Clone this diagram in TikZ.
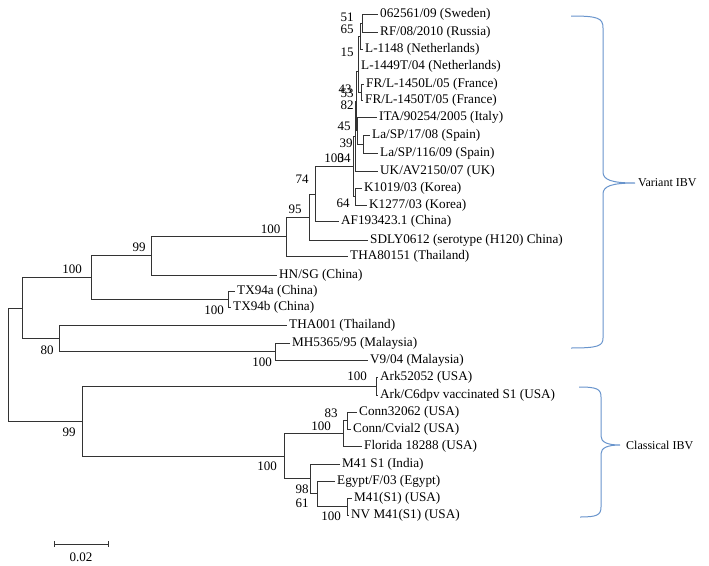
\documentclass[tikz,border=0pt]{standalone}
\usepackage{fontspec}
\setmainfont{Liberation Serif}
\definecolor{bracecol}{RGB}{104,148,204}

\begin{document}
\begin{tikzpicture}[x=1pt,y=-1pt,
	branch/.style={line width=0.9pt, draw=black!80},
	leaf/.style={anchor=west, inner sep=2pt, font=\fontsize{13.2}{14}\selectfont},
	boot/.style={inner sep=0pt, font=\fontsize{13}{14}\selectfont},
	clade/.style={line width=1pt, draw=bracecol},
	group/.style={anchor=west, inner sep=0pt, font=\fontsize{12}{14}\selectfont}]
			\useasboundingbox (0,0) rectangle (709,565);
			% leaf tips
			\coordinate (t1) at (378,14);
			\coordinate (t2) at (378,32);
			\coordinate (t3) at (363,49);
			\coordinate (t4) at (359,66.5);
			\coordinate (t5) at (364,84);
			\coordinate (t6) at (363,100.5);
			\coordinate (t7) at (377,117.5);
			\coordinate (t8) at (370,135);
			\coordinate (t9) at (378,153);
			\coordinate (t10) at (378,171);
			\coordinate (t11) at (362,188.5);
			\coordinate (t12) at (367,205);
			\coordinate (t13) at (339,221.5);
			\coordinate (t14) at (368,240);
			\coordinate (t15) at (348,256.5);
			\coordinate (t16) at (277,275);
			\coordinate (t17) at (235,291);
			\coordinate (t18) at (231,307.5);
			\coordinate (t19) at (287,325);
			\coordinate (t20) at (290,343);
			\coordinate (t21) at (368,360.5);
			\coordinate (t22) at (378,377.5);
			\coordinate (t23) at (378,395);
			\coordinate (t24) at (357,412.5);
			\coordinate (t25) at (351,429);
			\coordinate (t26) at (362,446);
			\coordinate (t27) at (340,464);
			\coordinate (t28) at (335,481);
			\coordinate (t29) at (352,498);
			\coordinate (t30) at (349,515);
			% inner nodes
			\coordinate (SR) at (362,23);
			\coordinate (Q) at (360,36);
			\coordinate (R) at (358,51.25);
			\coordinate (FR) at (361,92.25);
			\coordinate (S) at (358.5,71.75);
			\coordinate (SP) at (363,144);
			\coordinate (P4) at (357,130.75);
			\coordinate (P2) at (356,101.25);
			\coordinate (P1) at (355,136.1);
			\coordinate (KP) at (355,196.75);
			\coordinate (N100b) at (353,166.4);
			\coordinate (N74) at (315,193.95);
			\coordinate (N95) at (309,217);
			\coordinate (N100) at (286,236.75);
			\coordinate (N99) at (151,255.9);
			\coordinate (TX) at (228,299.25);
			\coordinate (Nd) at (91,277.6);
			\coordinate (MAL) at (275,351.75);
			\coordinate (N80) at (59,338.4);
			\coordinate (Ne) at (22,308);
			\coordinate (ARK) at (376,386.25);
			\coordinate (CONN) at (347,420.75);
			\coordinate (CG) at (343,433.4);
			\coordinate (M41) at (347,506.5);
			\coordinate (EG) at (317,493.75);
			\coordinate (IND) at (310,478.9);
			\coordinate (CL) at (284,456.1);
			\coordinate (Nf) at (82,421.2);
			\coordinate (root) at (8,364.6);
			% branches
			\foreach \p/\c in {SR/t1, SR/t2, Q/SR, Q/t3, R/Q, R/t4, FR/t5, FR/t6,
				S/R, S/FR, SP/t8, SP/t9, P4/t7, P4/SP, P2/S, P2/P4, P1/P2, P1/t10,
				KP/t11, KP/t12, N100b/P1, N100b/KP, N74/N100b, N74/t13,
				N95/N74, N95/t14, N100/N95, N100/t15, N99/N100, N99/t16,
				TX/t17, TX/t18, Nd/N99, Nd/TX, MAL/t20, MAL/t21, N80/t19, N80/MAL,
				Ne/Nd, Ne/N80, ARK/t22, ARK/t23, CONN/t24, CONN/t25, CG/CONN, CG/t26,
				M41/t29, M41/t30, EG/t28, EG/M41, IND/t27, IND/EG, CL/CG, CL/IND,
				Nf/ARK, Nf/CL, root/Ne, root/Nf}
			\draw[branch] (\p) |- (\c);
			% leaf names
			\node[leaf] (l1) at (t1) {062561/09 (Sweden)};
			\node[leaf] (l2) at (t2) {RF/08/2010 (Russia)};
			\node[leaf] (l3) at (t3) {L-1148 (Netherlands)};
			\node[leaf] (l4) at (t4) {L-1449T/04 (Netherlands)};
			\node[leaf] (l5) at (t5) {FR/L-1450L/05 (France)};
			\node[leaf] (l6) at (t6) {FR/L-1450T/05 (France)};
			\node[leaf] (l7) at (t7) {ITA/90254/2005 (Italy)};
			\node[leaf] (l8) at (t8) {La/SP/17/08 (Spain)};
			\node[leaf] (l9) at (t9) {La/SP/116/09 (Spain)};
			\node[leaf] (l10) at (t10) {UK/AV2150/07 (UK)};
			\node[leaf] (l11) at (t11) {K1019/03 (Korea)};
			\node[leaf] (l12) at (t12) {K1277/03 (Korea)};
			\node[leaf] (l13) at (t13) {AF193423.1 (China)};
			\node[leaf] (l14) at (t14) {SDLY0612 (serotype (H120) China)};
			\node[leaf] (l15) at (t15) {THA80151 (Thailand)};
			\node[leaf] (l16) at (t16) {HN/SG (China)};
			\node[leaf] (l17) at (t17) {TX94a (China)};
			\node[leaf] (l18) at (t18) {TX94b (China)};
			\node[leaf] (l19) at (t19) {THA001 (Thailand)};
			\node[leaf] (l20) at (t20) {MH5365/95 (Malaysia)};
			\node[leaf] (l21) at (t21) {V9/04 (Malaysia)};
			\node[leaf] (l22) at (t22) {Ark52052 (USA)};
			\node[leaf] (l23) at (t23) {Ark/C6dpv vaccinated S1 (USA)};
			\node[leaf] (l24) at (t24) {Conn32062 (USA)};
			\node[leaf] (l25) at (t25) {Conn/Cvial2 (USA)};
			\node[leaf] (l26) at (t26) {Florida 18288 (USA)};
			\node[leaf] (l27) at (t27) {M41 S1 (India)};
			\node[leaf] (l28) at (t28) {Egypt/F/03 (Egypt)};
			\node[leaf] (l29) at (t29) {M41(S1) (USA)};
			\node[leaf] (l30) at (t30) {NV M41(S1) (USA)};
			% bootstrap values
			\node[boot] (b51) at (347,17) {51};
			\node[boot] (b65) at (347,29) {65};
			\node[boot] (b15) at (347,52) {15};
			\node[boot] (b43) at (345,89) {43};
			\node[boot] (b53) at (347,93) {53};
			\node[boot] (b82) at (347,105.5) {82};
			\node[boot] (b45) at (344,126) {45};
			\node[boot] (b39) at (346,143) {39};
			\node[boot] (b100e) at (334,158) {100};
			\node[boot] (b34) at (344,158) {34};
			\node[boot] (b74) at (302,179) {74};
			\node[boot] (b95) at (295,209) {95};
			\node[boot] (b64) at (343,203) {64};
			\node[boot] (b100d) at (270.5,229) {100};
			\node[boot] (b99a) at (139,247) {99};
			\node[boot] (b100c) at (72,269) {100};
			\node[boot] (b100tx) at (214,310) {100};
			\node[boot] (b80) at (47,350) {80};
			\node[boot] (b100mal) at (262,362) {100};
			\node[boot] (b99b) at (69,432) {99};
			\node[boot] (b100ark) at (357,376) {100};
			\node[boot] (b100cl) at (267,466) {100};
			\node[boot] (b83) at (331,413) {83};
			\node[boot] (b100cg) at (321,426) {100};
			\node[boot] (b98) at (302,489) {98};
			\node[boot] (b61) at (302,503) {61};
			\node[boot] (b100m41) at (331,516) {100};
			% scale bar
			\coordinate (s0) at (54,544);
			\coordinate (s1) at (108,544);
			\draw[branch] (s0) -- (s1);
			\foreach \s in {s0,s1}
			\draw[branch] ([yshift=3pt]\s) -- ([yshift=-3pt]\s);
			\node[boot] (scale) at (81,557) {0.02};
			% braces
			\draw[clade] (571,16) .. controls (598,16) and (603,18) .. (603,28) -- (603,172)
				.. controls (603,180) and (612,183) .. (635,183)
				.. controls (612,183) and (603,186) .. (603,194) -- (603,338)
				.. controls (603,346) and (598,348) .. (571,348);
			\node[group] (variant) at (638,183) {Variant IBV};
			\draw[clade] (579,387) .. controls (597,387) and (601,389) .. (601,397) -- (601,436)
				.. controls (601,442) and (607,445) .. (620,445)
				.. controls (607,445) and (601,448) .. (601,454) -- (601,507)
				.. controls (601,515) and (597,517) .. (580,517);
			\node[group] (classical) at (626,445) {Classical IBV};
			\end{tikzpicture}
\end{document}
